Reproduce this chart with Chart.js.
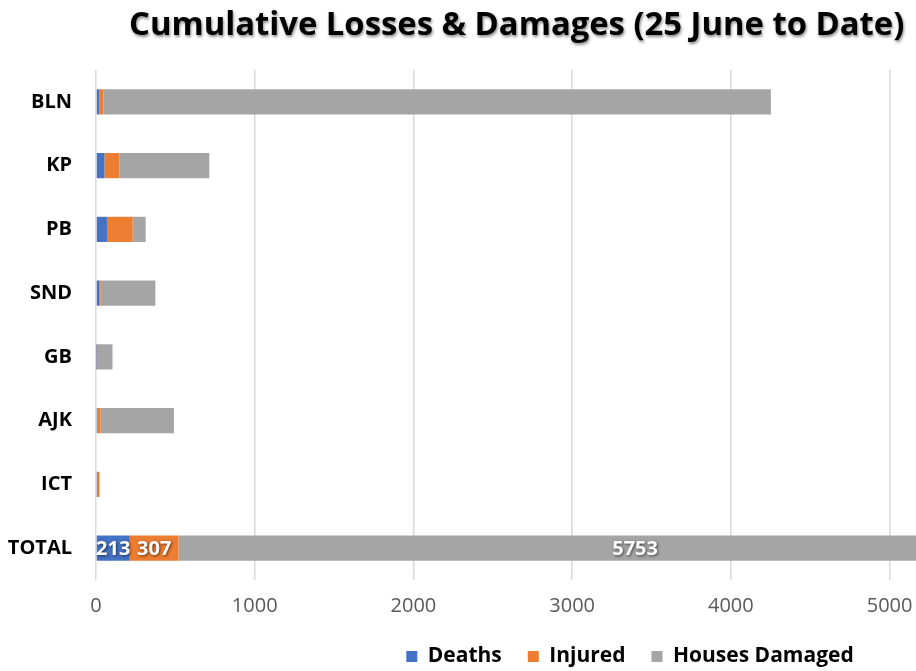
<!DOCTYPE html>
<html>
<head>
    <title>Cumulative Losses & Damages</title>
    <script src="https://cdn.jsdelivr.net/npm/chart.js"></script>
    <style>
        html, body { margin: 0; padding: 0; background: #fff; overflow: hidden; }
        #wrap { position: relative; width: 1260px; height: 671px; }
        #title {
            position: absolute; left: 129px; top: 0px;
            font-family: "Open Sans", sans-serif; font-weight: bold; font-size: 32.8px;
            color: #000; text-shadow: 1px 2px 3px rgba(0,0,0,0.45); white-space: nowrap;
        }
    </style>
</head>
<body>
    <div id="wrap">
        <div id="title">Cumulative Losses &amp; Damages (25 June to Date)</div>
        <canvas id="lossChart" width="1260" height="671"></canvas>
    </div>

    <script>
        // categories and series
        var regions = ['BLN', 'KP', 'PB', 'SND', 'GB', 'AJK', 'ICT', 'TOTAL'];
        var deaths = [20, 53, 69, 19, 2, 10, 10, 213];
        var injured = [27, 95, 162, 10, 2, 19, 12, 307];
        var housesDamaged = [4205, 566, 82, 345, 100, 462, 0, 5753];
        var xTicks = [0, 1000, 2000, 3000, 4000, 5000, 6000, 7000];

        // labels only on the TOTAL bar
        var totalLabels = {
            id: 'totalLabels',
            afterDatasetsDraw: function (chart) {
                var ctx = chart.ctx;
                var idx = regions.indexOf('TOTAL');
                ctx.save();
                ctx.font = 'bold 20px "Open Sans", sans-serif';
                ctx.textAlign = 'center';
                ctx.textBaseline = 'middle';
                ctx.fillStyle = '#fff';
                ctx.shadowColor = 'rgba(0,0,0,0.6)';
                ctx.shadowBlur = 3;
                ctx.shadowOffsetX = 1;
                ctx.shadowOffsetY = 1;
                chart.data.datasets.forEach(function (ds, i) {
                    var bar = chart.getDatasetMeta(i).data[idx];
                    var cx = (bar.x + bar.base) / 2;
                    ctx.fillText(String(ds.data[idx]), cx, bar.y + 1);
                });
                ctx.restore();
            }
        };

        var ctx = document.getElementById('lossChart').getContext('2d');
        var chart = new Chart(ctx, {
            type: 'bar',
            data: {
                labels: regions,
                datasets: [{
                    label: 'Deaths',
                    data: deaths,
                    backgroundColor: '#4472C4'
                }, {
                    label: 'Injured',
                    data: injured,
                    backgroundColor: '#ED7D31'
                }, {
                    label: 'Houses Damaged',
                    data: housesDamaged,
                    backgroundColor: '#A5A5A5'
                }]
            },
            options: {
                indexAxis: 'y',
                responsive: false,
                animation: false,
                layout: { padding: { top: 70, right: 0, left: 0, bottom: -6 } },
                datasets: { bar: { barPercentage: 0.52, categoryPercentage: 0.76 } },
                scales: {
                    x: {
                        stacked: true,
                        min: 0,
                        max: 7000,
                        afterBuildTicks: function (scale) {
                            scale.ticks = xTicks.map(function (v) { return { value: v }; });
                        },
                        afterFit: function (scale) { scale.height = 40; },
                        grid: { color: '#D9D9D9', lineWidth: 1.5, drawTicks: false },
                        border: { display: false },
                        ticks: {
                            padding: 14,
                            color: '#595959',
                            font: { family: 'Open Sans', size: 20 },
                            callback: function (value) { return String(value); }
                        }
                    },
                    y: {
                        stacked: true,
                        afterFit: function (scale) { scale.width = 96; },
                        grid: { display: false },
                        border: { display: false },
                        ticks: {
                            padding: 16,
                            color: '#000',
                            font: { family: 'Open Sans', size: 20, weight: 'bold' }
                        }
                    },
                    // empty right-hand strip so the legend centres on the full chart width
                    yRight: {
                        type: 'category',
                        labels: regions,
                        position: 'right',
                        afterFit: function (scale) { scale.width = 53; },
                        grid: { display: false },
                        border: { display: false },
                        ticks: { display: false }
                    }
                },
                plugins: {
                    legend: {
                        position: 'bottom',
                        labels: {
                            boxWidth: 11,
                            boxHeight: 11,
                            padding: 26,
                            color: '#000',
                            font: { family: 'Open Sans', size: 21, weight: 'bold' }
                        }
                    },
                    tooltip: { enabled: false }
                }
            },
            plugins: [totalLabels]
        });
    </script>
</body>
</html>
